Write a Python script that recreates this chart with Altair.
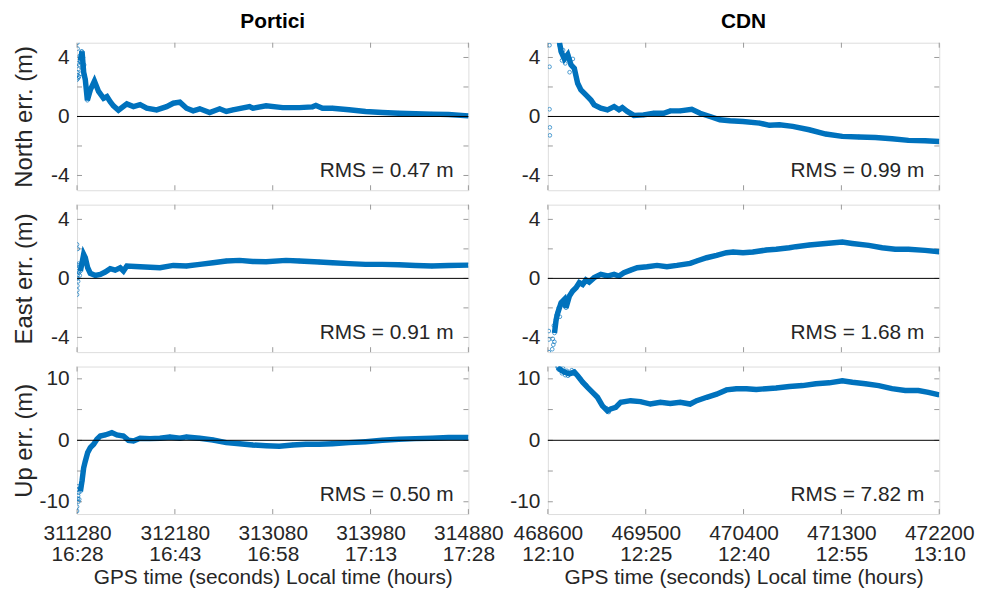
import altair as alt
import pandas as pd

FONT = "Liberation Sans"
BLUE = "#0072BD"
GRAY = "#9a9a9a"
TXT = "#262626"
W = 394
H = 148.5

# ---- time axes ----
por_start = 311280
cdn_start = 468600
por_gps_ticks = [311280, 312180, 313080, 313980, 314880]
por_local_ticks = ["16:28", "16:43", "16:58", "17:13", "17:28"]
cdn_gps_ticks = [468600, 469500, 470400, 471300, 472200]
cdn_local_ticks = ["12:10", "12:25", "12:40", "12:55", "13:10"]

stations = ["Portici", "CDN"]
row_titles = ["North err. (m)", "East err. (m)", "Up err. (m)"]
rms_portici = [0.47, 0.91, 0.50]
rms_cdn = [0.99, 1.68, 7.82]

# ---- Portici (seconds since start, error in m) ----
por_north_t = [31, 46, 61, 76, 95, 122, 160, 198, 244, 275, 305, 335, 381, 458, 519, 580, 641, 732, 824, 885,
               946, 1007, 1068, 1129, 1220, 1312, 1373, 1434, 1587, 1617, 1739, 1892, 2044, 2166, 2197, 2258,
               2349, 2502, 2654, 2807, 2959, 3112, 3264, 3417, 3600]
por_north_v = [3.8, 4.4, 3.0, 2.5, 1.1, 1.8, 2.4, 1.7, 1.23, 1.35, 1.0, 0.72, 0.42, 0.85, 0.67, 0.8, 0.56, 0.45,
               0.67, 0.9, 0.97, 0.56, 0.38, 0.52, 0.27, 0.52, 0.34, 0.45, 0.67, 0.56, 0.72, 0.6, 0.6, 0.65, 0.74,
               0.56, 0.56, 0.45, 0.34, 0.27, 0.22, 0.18, 0.16, 0.13, 0.04]
por_north_sc_t = [0, 0, 2, 3, 5, 8, 10, 12, 18, 20, 25, 30, 35, 40, 45, 50, 55, 60, 65, 70]
por_north_sc_v = [2.5, 2.8, 3.0, 5.0, 4.6, 3.6, 2.6, 3.2, 2.7, 3.5, 4.1, 3.7, 2.9, 4.4, 3.9, 3.3, 4.0, 3.4, 3.5, 2.8]

por_east_t = [31, 46, 61, 76, 98, 122, 168, 214, 259, 305, 351, 397, 427, 458, 580, 763, 885, 1007, 1129, 1251,
              1373, 1495, 1617, 1739, 1922, 2044, 2227, 2349, 2502, 2654, 2807, 2959, 3112, 3264, 3417, 3600]
por_east_v = [0.5, 1.06, 1.63, 1.4, 0.72, 0.34, 0.2, 0.27, 0.43, 0.66, 0.56, 0.72, 0.5, 0.84, 0.79, 0.72, 0.88,
              0.84, 0.95, 1.06, 1.18, 1.22, 1.15, 1.13, 1.22, 1.18, 1.11, 1.06, 1.0, 0.95, 0.95, 0.93, 0.88, 0.84,
              0.88, 0.9]
por_east_sc_t = [0, 0, 2, 3, 4, 5, 6, 8, 10, 12, 15, 18, 20, 25]
por_east_sc_v = [2.3, -1.1, -0.8, -0.5, 0.0, 0.2, 2.0, 0.9, -0.2, 0.5, 1.0, 0.4, 0.8, 0.2]

por_up_t = [31, 46, 61, 76, 98, 122, 153, 183, 214, 259, 320, 366, 427, 473, 519, 580, 671, 763, 854, 946, 1007,
            1129, 1251, 1373, 1495, 1617, 1739, 1861, 1983, 2105, 2227, 2349, 2502, 2654, 2807, 2959, 3112, 3264,
            3417, 3600]
por_up_v = [-8.3, -6.6, -4.5, -3.4, -2.0, -1.2, -0.65, 0.16, 0.7, 0.87, 1.25, 0.87, 0.7, 0.0, -0.1, 0.33, 0.27,
            0.33, 0.55, 0.33, 0.55, 0.33, 0.05, -0.38, -0.55, -0.77, -0.87, -0.98, -0.77, -0.65, -0.65, -0.55,
            -0.38, -0.22, 0.0, 0.16, 0.27, 0.33, 0.44, 0.44]
por_up_sc_t = [0, 0, 3, 6, 8, 10, 12, 15, 20, 25]
por_up_sc_v = [-11.5, -10.8, -8.0, -9.5, -7.5, -9.0, -10.0, -8.5, -9.6, -7.8]

# ---- CDN ----
cdn_north_t = [107, 122, 152, 183, 213, 243, 274, 304, 350, 396, 426, 487, 548, 609, 654, 685, 730, 791, 882, 974,
               1065, 1126, 1217, 1324, 1400, 1491, 1582, 1674, 1795, 1948, 2039, 2130, 2252, 2404, 2556, 2708,
               2860, 3013, 3165, 3317, 3469, 3600]
cdn_north_v = [5.0, 4.4, 3.9, 4.2, 3.5, 3.26, 2.25, 1.8, 1.46, 1.12, 0.79, 0.56, 0.45, 0.67, 0.45, 0.6, 0.34, 0.07,
               0.11, 0.22, 0.22, 0.38, 0.38, 0.49, 0.22, 0.0, -0.22, -0.29, -0.34, -0.45, -0.6, -0.56, -0.67,
               -0.9, -1.19, -1.35, -1.39, -1.42, -1.51, -1.62, -1.64, -1.69]
cdn_north_sc_t = [15, 15, 15, 18, 18, 110, 130, 140, 160, 175, 200, 230]
cdn_north_sc_v = [4.83, 3.37, 0.49, -0.74, -1.28, 4.8, 3.8, 4.5, 3.6, 4.0, 3.0, 3.9]

cdn_east_t = [61, 76, 91, 122, 152, 167, 198, 228, 259, 289, 320, 350, 380, 426, 487, 548, 609, 654, 700, 761, 822,
              913, 1004, 1095, 1187, 1309, 1369, 1461, 1552, 1643, 1704, 1795, 1887, 2008, 2100, 2221, 2282, 2404,
              2556, 2708, 2800, 2952, 3074, 3195, 3317, 3469, 3600]
cdn_east_v = [-3.7, -2.8, -2.33, -1.65, -1.42, -1.99, -1.2, -0.86, -0.63, -0.29, -0.41, -0.11, -0.25, 0.05, 0.27,
              0.16, 0.27, 0.16, 0.38, 0.56, 0.72, 0.79, 0.88, 0.79, 0.88, 1.02, 1.18, 1.4, 1.56, 1.74, 1.79, 1.74,
              1.79, 1.92, 1.97, 2.08, 2.15, 2.26, 2.37, 2.46, 2.37, 2.24, 2.08, 1.97, 1.97, 1.9, 1.81]
cdn_east_sc_t = [9, 9, 9, 40, 45, 50, 55, 60, 70, 80, 100, 110, 140, 170]
cdn_east_sc_v = [-3.57, -4.14, -5.0, -4.8, -4.1, -4.5, -3.2, -4.3, -3.0, -2.5, -2.0, -2.6, -1.8, -1.6]

cdn_up_t = [91, 122, 152, 198, 243, 274, 320, 365, 411, 456, 502, 548, 578, 624, 670, 761, 852, 943, 1035, 1126,
            1217, 1309, 1369, 1461, 1552, 1643, 1734, 1826, 1917, 2008, 2100, 2221, 2343, 2465, 2587, 2708, 2800,
            2921, 3043, 3165, 3287, 3408, 3500, 3600]
cdn_up_v = [11.9, 11.4, 11.1, 10.8, 11.1, 10.5, 9.45, 8.6, 7.8, 7.0, 5.6, 4.8, 5.1, 5.35, 6.2, 6.45, 6.3, 5.9, 6.2,
            6.0, 6.2, 5.9, 6.45, 7.0, 7.5, 8.2, 8.4, 8.4, 8.25, 8.4, 8.5, 8.75, 8.9, 9.2, 9.35, 9.7, 9.45, 9.2,
            8.9, 8.4, 8.1, 8.1, 7.8, 7.4]
cdn_up_sc_t = [91, 100, 110, 130, 140, 160, 175, 185, 220, 300, 350, 540, 560]
cdn_up_sc_v = [12.0, 11.5, 11.8, 10.9, 11.7, 10.6, 11.3, 10.5, 11.4, 10.0, 9.0, 5.2, 4.6]

ne_major = [-4, 0, 4]
ne_minor = [-4, -2, 0, 2, 4]
up_major = [-10, 0, 10]
up_minor = [-10, -5, 0, 5, 10]


def label_expr(gps, local):
    parts = []
    for g, l in zip(gps, local):
        parts.append(f"datum.value == {g} ? ['{g}', '{l}'] : ")
    return "".join(parts) + "''"


def panel(start, t, v, sc_t, sc_v, ylim, major, minor, rms, ytitle, bottom, gps, local, title=None):
    xs = alt.Scale(domain=[start, start + 3600], nice=False, zero=False)
    ys = alt.Scale(domain=[-ylim, ylim], nice=False, zero=False)
    if bottom:
        xaxis = alt.Axis(values=gps, labelExpr=label_expr(gps, local), ticks=False, domain=False, grid=False,
                         labelFontSize=21, labelLineHeight=21, labelPadding=9, labelColor=TXT, labelFont=FONT,
                         labelFlush=False, labelOverlap=False, labelBaseline="top",
                         title="GPS time (seconds) Local time (hours)", titleFontSize=21, titleFont=FONT,
                         titleFontWeight="normal", titleColor=TXT, titleX=W / 2, titleY=53,
                         titleBaseline="top")
    else:
        xaxis = None
    yaxis = alt.Axis(values=major, ticks=False, domain=False, grid=False, labelFontSize=21, labelPadding=8,
                     labelColor=TXT, labelFont=FONT, labelFlush=False, labelOverlap=False,
                     labelExpr="toString(datum.value)", title=ytitle, titleFontSize=24, titleFont=FONT,
                     titleFontWeight="normal", titleColor=TXT, titleX=-41.2, titleY=H / 2)
    X = alt.X("t:Q", scale=xs, axis=xaxis)
    Y = alt.Y("v:Q", scale=ys, axis=yaxis)

    main_df = pd.DataFrame({"t": [start + x for x in t], "v": v})
    sc_df = pd.DataFrame({"t": [start + x for x in sc_t], "v": sc_v})
    pts_df = pd.concat([sc_df, main_df], ignore_index=True)

    line = alt.Chart(main_df).mark_line(color=BLUE, strokeWidth=5.5, clip=True).encode(x=X, y=Y)
    pts = alt.Chart(pts_df).mark_point(shape="circle", filled=False, color=BLUE, size=14, strokeWidth=0.8,
                                       opacity=0.85, clip=True).encode(x=X, y=Y)
    zero = alt.Chart(pd.DataFrame({"v": [0]})).mark_rule(color="black", strokeWidth=1).encode(y=Y)
    ytick_df = pd.DataFrame({"v": minor})
    ytl = alt.Chart(ytick_df).mark_rule(color=GRAY).encode(y=Y, x=alt.value(0), x2=alt.value(5))
    ytr = alt.Chart(ytick_df).mark_rule(color=GRAY).encode(y=Y, x=alt.value(W - 5), x2=alt.value(W))
    xtick_df = pd.DataFrame({"t": gps})
    xtt = alt.Chart(xtick_df).mark_rule(color=GRAY).encode(x=X, y=alt.value(0), y2=alt.value(5))
    xtb = alt.Chart(xtick_df).mark_rule(color=GRAY).encode(x=X, y=alt.value(H - 5), y2=alt.value(H))
    txt = alt.Chart(pd.DataFrame({"label": [f"RMS = {rms:.2f} m"]})).mark_text(
        align="right", baseline="middle", fontSize=21, font=FONT, color=TXT
    ).encode(text="label:N", x=alt.value(W - 15), y=alt.value(H - 19))

    ch = alt.layer(ytl, ytr, xtt, xtb, line, pts, zero, txt).properties(width=W, height=H)
    if title:
        ch = ch.properties(title=alt.TitleParams(text=title, fontSize=21, font=FONT, fontWeight="bold",
                                                 color="black", offset=10.6, anchor="middle"))
    return ch


panels = [
    panel(por_start, por_north_t, por_north_v, por_north_sc_t, por_north_sc_v, 5, ne_major, ne_minor,
          rms_portici[0], row_titles[0], False, por_gps_ticks, por_local_ticks, stations[0]),
    panel(cdn_start, cdn_north_t, cdn_north_v, cdn_north_sc_t, cdn_north_sc_v, 5, ne_major, ne_minor,
          rms_cdn[0], "", False, cdn_gps_ticks, cdn_local_ticks, stations[1]),
    panel(por_start, por_east_t, por_east_v, por_east_sc_t, por_east_sc_v, 5, ne_major, ne_minor,
          rms_portici[1], row_titles[1], False, por_gps_ticks, por_local_ticks),
    panel(cdn_start, cdn_east_t, cdn_east_v, cdn_east_sc_t, cdn_east_sc_v, 5, ne_major, ne_minor,
          rms_cdn[1], "", False, cdn_gps_ticks, cdn_local_ticks),
    panel(por_start, por_up_t, por_up_v, por_up_sc_t, por_up_sc_v, 12, up_major, up_minor,
          rms_portici[2], row_titles[2], True, por_gps_ticks, por_local_ticks),
    panel(cdn_start, cdn_up_t, cdn_up_v, cdn_up_sc_t, cdn_up_sc_v, 12, up_major, up_minor,
          rms_cdn[2], "", True, cdn_gps_ticks, cdn_local_ticks),
]

chart = alt.concat(*panels, columns=2, spacing={"row": 14, "column": 80}, bounds="flush").properties(
    padding={"left": 3.5, "top": 0, "right": 0, "bottom": 0}
).configure_view(
    stroke=GRAY, strokeWidth=1
).configure(font=FONT, background="white")

chart.save("out.html", embed_options={"renderer": "svg", "actions": False})
